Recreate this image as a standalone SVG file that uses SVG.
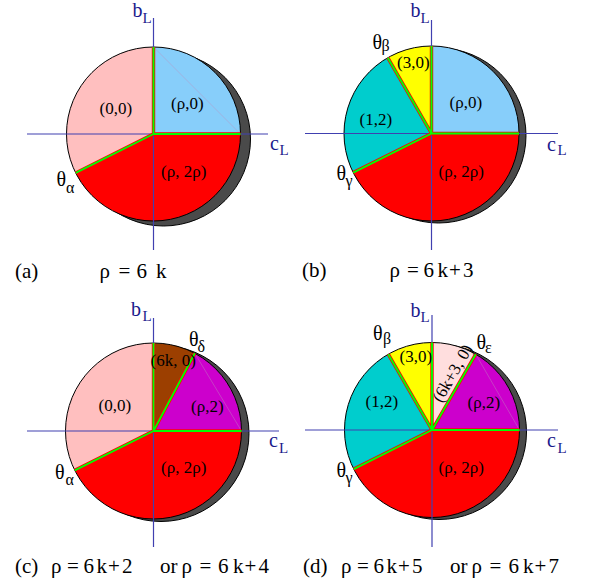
<svg xmlns="http://www.w3.org/2000/svg" width="589" height="585" viewBox="0 0 589 585" font-family="'Liberation Serif', 'Times New Roman', serif">
<style>
text{font-family:'Liberation Serif','Times New Roman',serif;fill:#000}
.seg{font-size:17px}
.cap{font-size:21px}
.th{font-size:20px}
.sub{font-size:16px}
.ax{font-size:20px;fill:#1a1a8c}
.axs{font-size:15px;fill:#1a1a8c}
.axis{stroke:#4040b0;stroke-width:1.2;fill:none}
.shadow{fill:#4a4a4a;stroke:#000;stroke-width:1}
.rim{fill:none;stroke:#000;stroke-width:1}
.bR{stroke:#ff0000;stroke-width:3.4;fill:none}
.bG{stroke:#00ff00;stroke-width:1.9;fill:none}
.faint{stroke:#c090c0;stroke-width:0.6;opacity:0.7}
.pink{fill:#ffbfbf}.blue{fill:#87cefa}.red{fill:#ff0000}.yel{fill:#ffff00}.cyan{fill:#00cdcd}.brown{fill:#9c3f00}.mag{fill:#cc00cc}.lpink{fill:#ffdede}
</style>
<defs>
<clipPath id="clipD"><circle cx="432" cy="430" r="87.5"/></clipPath>
</defs>

<!-- Panel (a) -->
<g id="panel-a">
<circle class="shadow" cx="163.5" cy="139" r="87"/>
<g id="a-rho0"><path class="blue" d="M153.5,134 L240.5,134 A87,87 0 0 0 153.5,47 Z"/></g>
<g id="a-00"><path class="pink" d="M153.5,134 L153.5,47 A87,87 0 0 0 75.7,172.9 Z"/></g>
<g id="a-rho2rho"><path class="red" d="M153.5,134 L75.7,172.9 A87,87 0 0 0 240.5,134 Z"/></g>
<line class="faint" x1="153.5" y1="47" x2="240.5" y2="134"/>
<circle class="rim" cx="153.5" cy="134" r="87"/>
<g id="a-axes"><line class="axis" x1="27" y1="134" x2="268" y2="134"/><line class="axis" x1="153.5" y1="18" x2="153.5" y2="250"/></g>
<g id="a-connectors">
<path class="bR" d="M153.5,134 L153.5,47 M153.5,134 L240.5,134 M153.5,134 L75.7,172.9"/>
<path class="bG" d="M153.5,134 L153.5,47 M153.5,134 L240.5,134 M153.5,134 L75.7,172.9"/>
</g>
<g id="a-labels">
<text class="seg" x="99.5" y="114">(0,0)</text>
<text class="seg" x="171" y="108.5">(ρ,0)</text>
<text class="seg" x="161" y="176.5">(ρ, 2ρ)</text>
<text class="th" x="56.5" y="186">θ</text><text class="sub" x="66" y="193">α</text>
<text class="ax" x="132.5" y="17">b</text><text class="axs" x="142.5" y="22.5">L</text>
<text class="ax" x="270" y="150">c</text><text class="axs" x="279.5" y="154.5">L</text>
<text class="cap" y="278"><tspan x="15">(a)</tspan><tspan x="99.5">ρ</tspan><tspan x="118.5">=</tspan><tspan x="136.5">6</tspan><tspan x="156">k</tspan></text>
</g>
</g>

<!-- Panel (b) -->
<g id="panel-b">
<circle class="shadow" cx="438.5" cy="135.5" r="87.5"/>
<g id="b-rho0"><path class="blue" d="M431.5,133.5 L519,133.5 A87.5,87.5 0 0 0 431.5,46 Z"/></g>
<g id="b-30"><path class="yel" d="M431.5,133.5 L431.5,46 A87.5,87.5 0 0 0 387.75,57.72 Z"/></g>
<g id="b-12"><path class="cyan" d="M431.5,133.5 L387.75,57.72 A87.5,87.5 0 0 0 353.24,172.63 Z"/></g>
<g id="b-rho2rho"><path class="red" d="M431.5,133.5 L353.24,172.63 A87.5,87.5 0 0 0 519,133.5 Z"/></g>
<circle class="rim" cx="431.5" cy="133.5" r="87.5"/>
<g id="b-axes"><line class="axis" x1="305" y1="133.5" x2="558" y2="133.5"/><line class="axis" x1="431.5" y1="20" x2="431.5" y2="250"/></g>
<g id="b-connectors">
<path class="bR" d="M431.5,133.5 L431.5,46 M431.5,133.5 L519,133.5 M431.5,133.5 L387.75,57.72 M431.5,133.5 L353.24,172.63"/>
<path class="bG" d="M431.5,133.5 L431.5,46 M431.5,133.5 L519,133.5 M431.5,133.5 L387.75,57.72 M431.5,133.5 L353.24,172.63"/>
</g>
<g id="b-labels">
<text class="seg" x="397" y="67.5">(3,0)</text>
<text class="seg" x="449.5" y="108">(ρ,0)</text>
<text class="seg" x="359.5" y="125">(1,2)</text>
<text class="seg" x="438.5" y="176.5">(ρ, 2ρ)</text>
<text class="th" x="372.5" y="48.5">θ</text><text class="sub" x="381.5" y="51">β</text>
<text class="th" x="336.5" y="180">θ</text><text class="sub" x="345.5" y="186">γ</text>
<text class="ax" x="410.5" y="17">b</text><text class="axs" x="420.5" y="22.5">L</text>
<text class="ax" x="547" y="150.5">c</text><text class="axs" x="557.5" y="155">L</text>
<text class="cap" y="277"><tspan x="302">(b)</tspan><tspan x="389.5">ρ</tspan><tspan x="407">=</tspan><tspan x="423.5">6</tspan><tspan x="437.5">k</tspan><tspan x="449">+</tspan><tspan x="463">3</tspan></text>
</g>
</g>

<!-- Panel (c) -->
<g id="panel-c">
<circle class="shadow" cx="161" cy="433.5" r="88"/>
<g id="c-00"><path class="pink" d="M153.5,431 L153.5,343 A88,88 0 0 0 74.79,470.35 Z"/></g>
<g id="c-6k0"><path class="brown" d="M153.5,431 L194.8,353.3 A88,88 0 0 0 153.5,343 Z"/></g>
<g id="c-rho2"><path class="mag" d="M153.5,431 L241.5,431 A88,88 0 0 0 194.8,353.3 Z"/></g>
<g id="c-rho2rho"><path class="red" d="M153.5,431 L74.79,470.35 A88,88 0 0 0 241.5,431 Z"/></g>
<line class="faint" x1="194.8" y1="353.3" x2="241.5" y2="431"/>
<circle class="rim" cx="153.5" cy="431" r="88"/>
<g id="c-axes"><line class="axis" x1="27" y1="431" x2="279" y2="431"/><line class="axis" x1="153.5" y1="318" x2="153.5" y2="547"/></g>
<g id="c-connectors">
<path class="bR" d="M153.5,431 L153.5,343 M153.5,431 L241.5,431 M153.5,431 L194.8,353.3 M153.5,431 L74.79,470.35"/>
<path class="bG" d="M153.5,431 L153.5,343 M153.5,431 L241.5,431 M153.5,431 L194.8,353.3 M153.5,431 L74.79,470.35"/>
</g>
<g id="c-labels">
<text class="seg" x="98.5" y="410.5">(0,0)</text>
<text class="seg" x="150.5" y="366">(6k, 0)</text>
<text class="seg" x="191" y="411.5">(ρ,2)</text>
<text class="seg" x="161" y="473">(ρ, 2ρ)</text>
<text class="th" x="55" y="478.5">θ</text><text class="sub" x="65.5" y="485">α</text>
<text class="th" x="189" y="345.5">θ</text><text class="sub" x="197.5" y="352">δ</text>
<text class="ax" x="131" y="316">b</text><text class="axs" x="142.5" y="321">L</text>
<text class="ax" x="269" y="447">c</text><text class="axs" x="279" y="452.5">L</text>
<text class="cap" y="573"><tspan x="15">(c)</tspan><tspan x="51">ρ</tspan><tspan x="67">=</tspan><tspan x="83.5">6</tspan><tspan x="96.5">k</tspan><tspan x="108">+</tspan><tspan x="122">2</tspan><tspan x="160">or</tspan><tspan x="181.5">ρ</tspan><tspan x="199.5">=</tspan><tspan x="218">6</tspan><tspan x="233">k</tspan><tspan x="244.5">+</tspan><tspan x="258.5">4</tspan></text>
</g>
</g>

<!-- Panel (d) -->
<g id="panel-d">
<circle class="shadow" cx="439" cy="432" r="87.5"/>
<g id="d-30"><path class="yel" d="M432,430 L432,342.5 A87.5,87.5 0 0 0 388.25,354.22 Z"/></g>
<g id="d-12"><path class="cyan" d="M432,430 L388.25,354.22 A87.5,87.5 0 0 0 353.74,469.13 Z"/></g>
<g id="d-rho2rho"><path class="red" d="M432,430 L353.74,469.13 A87.5,87.5 0 0 0 519.5,430 Z"/></g>
<g id="d-rho2"><path class="mag" d="M432,430 L519.5,430 A87.5,87.5 0 0 0 475.75,354.22 Z"/></g>
<g id="d-6k30"><path class="lpink" d="M432,430 L475.75,354.22 A87.5,87.5 0 0 0 432,342.5 Z"/></g>
<line class="faint" x1="475.75" y1="354.22" x2="519.5" y2="430"/>
<circle class="rim" cx="432" cy="430" r="87.5"/>
<g id="d-axes"><line class="axis" x1="305" y1="430" x2="558" y2="430"/><line class="axis" x1="432" y1="315" x2="432" y2="547"/></g>
<g id="d-connectors">
<path class="bR" d="M432,430 L432,342.5 M432,430 L519.5,430 M432,430 L388.25,354.22 M432,430 L353.74,469.13 M432,430 L475.75,354.22"/>
<path class="bG" d="M432,430 L432,342.5 M432,430 L519.5,430 M432,430 L388.25,354.22 M432,430 L353.74,469.13 M432,430 L475.75,354.22"/>
</g>
<g id="d-labels">
<text class="seg" x="399.5" y="361.5">(3,0)</text>
<text class="seg" x="365.5" y="406.5">(1,2)</text>
<text class="seg" x="467.5" y="408">(ρ,2)</text>
<text class="seg" x="438.5" y="472.5">(ρ, 2ρ)</text>
<text class="seg" clip-path="url(#clipD)" x="441.5" y="403.5" transform="rotate(-60 441.5 403.5)">(6k+3, 0)</text>
<text class="th" x="373" y="340">θ</text><text class="sub" x="383" y="343.5">β</text>
<text class="th" x="336.5" y="476.5">θ</text><text class="sub" x="345.5" y="482.5">γ</text>
<text class="th" x="476.5" y="348.5">θ</text><text class="sub" x="485" y="353">ε</text>
<text class="ax" x="410.5" y="317">b</text><text class="axs" x="420.5" y="322">L</text>
<text class="ax" x="547" y="447">c</text><text class="axs" x="557.5" y="452.5">L</text>
<text class="cap" y="573"><tspan x="303">(d)</tspan><tspan x="341">ρ</tspan><tspan x="357">=</tspan><tspan x="373.5">6</tspan><tspan x="386.5">k</tspan><tspan x="398">+</tspan><tspan x="412">5</tspan><tspan x="450">or</tspan><tspan x="471.5">ρ</tspan><tspan x="489.5">=</tspan><tspan x="508.5">6</tspan><tspan x="523">k</tspan><tspan x="534.5">+</tspan><tspan x="548.5">7</tspan></text>
</g>
</g>
</svg>
